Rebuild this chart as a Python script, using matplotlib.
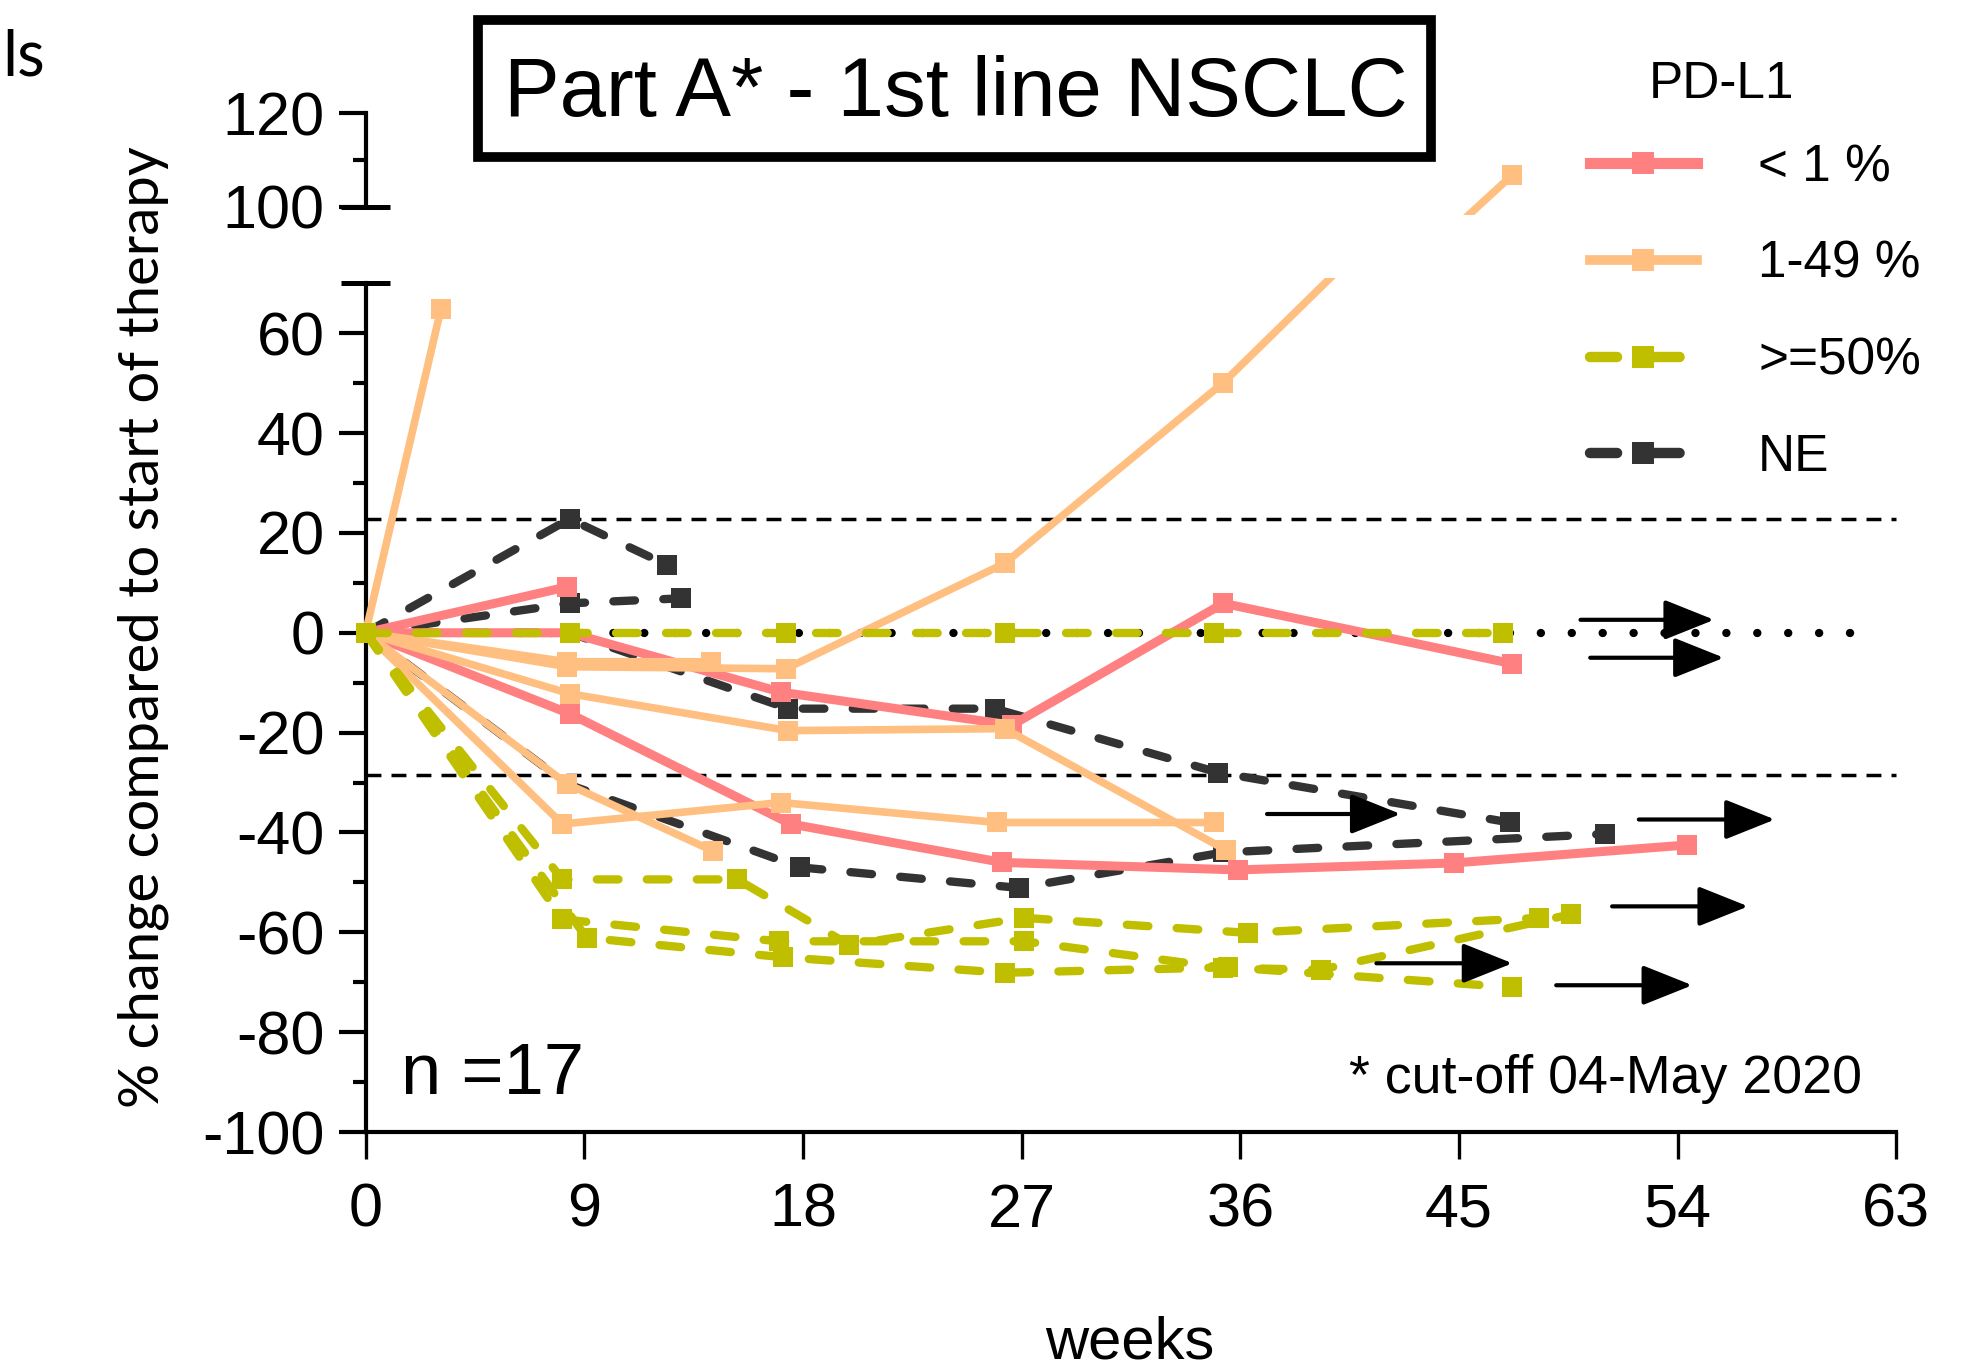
import matplotlib
matplotlib.use('Agg')
import matplotlib.pyplot as plt
from matplotlib.lines import Line2D
from matplotlib.patches import Rectangle

plt.rcParams['font.family'] = ['Liberation Sans', 'DejaVu Sans']
plt.rcParams['axes.unicode_minus'] = False

# ---------------- data (weeks, % change) ----------------
RED_WEEKS = [[0, 8.3], [0, 8.4, 17.1, 26.6, 35.3, 47.2], [0, 8.4, 17.5, 26.2, 35.9, 44.8, 54.4]]
RED_VALUES = [[0, 9.2], [0, 0, -11.9, -18.5, 5.9, -6.2], [0, -16.2, -38.3, -46.0, -47.5, -46.1, -42.5]]

ORANGE_WEEKS = [[0, 3.1], [0, 8.3, 14.2], [0, 8.3, 17.3, 26.3, 35.3, 47.2],
                [0, 8.4, 17.4, 26.3, 35.4], [0, 8.1, 17.1, 26.0, 34.9], [0, 8.3, 14.3]]
ORANGE_VALUES = [[0, 64.8], [0, -5.8, -5.8], [0, -6.8, -7.2, 13.9, 50.1, 106.8],
                 [0, -12.2, -19.6, -19.2, -43.5], [0, -38.3, -34.0, -38.0, -38.0], [0, -30.3, -43.7]]

OLIVE_WEEKS = [[0, 8.4, 17.3, 26.3, 34.9, 46.8], [0, 8.1, 15.3, 19.9, 27.1, 36.3, 48.3],
               [0, 8.1, 17.0, 27.1, 35.3, 39.3, 49.6], [0, 9.1, 17.2, 26.3, 35.5, 47.2]]
OLIVE_VALUES = [[0, 0, 0, 0, 0, 0], [0, -49.4, -49.4, -62.5, -57.1, -60.1, -57.1],
                [0, -57.4, -61.8, -61.8, -67.1, -67.5, -56.4], [0, -61.1, -65.0, -68.1, -67.0, -71.0]]

NE_WEEKS = [[0, 8.4, 12.4], [0, 8.4, 13.0], [0, 8.4, 17.4, 25.9, 35.1, 47.1], [0, 8.3, 17.9, 26.9, 35.3, 51.0]]
NE_VALUES = [[0, 22.8, 13.6], [0, 5.9, 6.9], [0, 0, -15.2, -15.2, -28.0, -38.0], [0, -30.3, -47.0, -51.1, -44.0, -40.3]]

GROUP_LABELS = ['< 1 %', '1-49 %', '>=50%', 'NE']
GROUP_COLORS = ['#FF8080', '#FFBF80', '#BFBF00', '#333333']

# reference lines
REF_LEVELS = [22.7, -28.5]
ZERO_LINE_WEEKS = [0, 62]
# ongoing-treatment arrows: (start week, end week, value)
ARROWS = [(50.0, 55.5, 2.6), (50.4, 55.9, -5.0), (37.1, 42.6, -36.3), (52.4, 58.0, -37.4),
          (51.3, 56.9, -54.8), (41.6, 47.2, -66.2), (49.0, 54.6, -70.6)]

X_TICKS = [0, 9, 18, 27, 36, 45, 54, 63]
Y_TICKS_LOW = [-100, -80, -60, -40, -20, 0, 20, 40, 60]
Y_TICKS_HIGH = [100, 120]

# ---------------- figure ----------------
W, H = 1976, 1369
fig = plt.figure(figsize=(W / 100, H / 100), dpi=100)

XLIM = (-0.7, 63.3)
ax = fig.add_axes([0.17637, 0.1731, 0.78704, 0.6236])
ax_top = fig.add_axes([0.17637, 0.8429, 0.78704, 0.0778])

dash = (0, (2.6, 3.4))
styles = [
    dict(ls='-', lw=6.5, z=3),
    dict(ls='-', lw=5.5, z=4),
    dict(ls=dash, lw=6, z=5),
    dict(ls=dash, lw=6, z=2),
]
groups = [(RED_WEEKS, RED_VALUES), (ORANGE_WEEKS, ORANGE_VALUES),
          (OLIVE_WEEKS, OLIVE_VALUES), (NE_WEEKS, NE_VALUES)]

for a in (ax, ax_top):
    for (wks, vals), col, st in zip(groups, GROUP_COLORS, styles):
        for xw, yv in zip(wks, vals):
            a.plot(xw, yv, color=col, ls=st['ls'], lw=st['lw'], marker='s', markersize=15,
                   markeredgewidth=0, dash_capstyle='round', zorder=st['z'])
    a.set_xlim(*XLIM)
    a.spines['top'].set_visible(False)
    a.spines['right'].set_visible(False)
    a.spines['left'].set_position(('data', 0))
    a.spines['left'].set_linewidth(3)
    a.spines['bottom'].set_linewidth(3)
    a.patch.set_alpha(0)

# reference lines
for lvl in REF_LEVELS:
    ax.plot([0, 63], [lvl, lvl], color='black', lw=2.5, ls=(0, (4.3, 2.9)), zorder=1)
ax.plot(ZERO_LINE_WEEKS, [0, 0], color='black', lw=6, ls=(0, (0.01, 3.7)),
        dash_capstyle='round', zorder=1)

# arrows
for xs, xe, yv in ARROWS:
    ax.annotate('', xy=(xe, yv), xytext=(xs, yv),
                arrowprops=dict(arrowstyle='-|>,head_length=1.55,head_width=0.62',
                                mutation_scale=20, lw=3, color='black',
                                shrinkA=0, shrinkB=0), zorder=6)

# lower axes
ax.set_ylim(-100, 71)
ax.spines['left'].set_bounds(-100, 70)
ax.spines['bottom'].set_bounds(0, 63)
ax.set_yticks(Y_TICKS_LOW)
ax.set_yticks([-90, -70, -50, -30, -10, 10, 30, 50], minor=True)
ax.set_xticks(X_TICKS)
ax.set_xticklabels([str(t) for t in X_TICKS])
ax.tick_params(axis='y', which='major', length=19.4, width=3, labelsize=44, pad=10)
ax.tick_params(axis='y', which='minor', length=9.7, width=3)
ax.tick_params(axis='x', which='major', length=19.4, width=2.4, labelsize=44, pad=17)
ax.plot([-1, 1], [70, 70], color='black', lw=3.6, solid_capstyle='butt', clip_on=False)

# upper axes
ax_top.set_ylim(98.2, 121)
ax_top.spines['bottom'].set_visible(False)
ax_top.spines['left'].set_bounds(100, 120)
ax_top.set_yticks(Y_TICKS_HIGH)
ax_top.set_yticks([110], minor=True)
ax_top.tick_params(axis='x', which='both', bottom=False, labelbottom=False)
ax_top.tick_params(axis='y', which='major', length=19.4, width=3, labelsize=44, pad=10)
ax_top.tick_params(axis='y', which='minor', length=9.7, width=3)
ax_top.plot([-1, 1], [100, 100], color='black', lw=3.6, solid_capstyle='butt', clip_on=False)

# texts
fig.text(0.0727, 0.542, '% change compared to start of therapy', rotation=90,
         ha='center', va='center', fontsize=40.5, family=['Lato', 'DejaVu Sans'])
fig.text(1130 / W, 0.008, 'weeks', ha='center', va='baseline', fontsize=43)
fig.text(400.7 / W, 0.2011, 'n =17', ha='left', va='baseline', fontsize=52)
fig.text(1862 / W, 0.2018, '* cut-off 04-May 2020', ha='right', va='baseline', fontsize=38.7)
fig.text(0.001, 0.9448, 'ls', ha='left', va='baseline', fontsize=46, family=['Lato', 'DejaVu Sans'])

# title box
fig.patches.append(Rectangle((478 / W, 1 - 157 / H), 953 / W, 137 / H, transform=fig.transFigure,
                             fill=False, edgecolor='black', lw=7))
fig.text(956 / W, 1 - 116 / H, 'Part A* - 1st line NSCLC', ha='center', va='baseline', fontsize=60)

# legend
fig.text(1721 / W, 1 - 98 / H, 'PD-L1', ha='center', va='baseline', fontsize=37)
handles = [Line2D([], [], color=c, ls=st['ls'], lw=st['lw'] + 1.5, marker='s', markersize=16,
                  markeredgewidth=0, dash_capstyle='round')
           for c, st in zip(GROUP_COLORS, styles)]
fig.legend(handles, GROUP_LABELS, loc='upper left', bbox_to_anchor=(1590 / W, 0.8955),
           frameon=False, fontsize=37, handlelength=2.08, handletextpad=1.19,
           labelspacing=0.93, borderpad=0, borderaxespad=0)

fig.savefig('out.png', dpi=100)
